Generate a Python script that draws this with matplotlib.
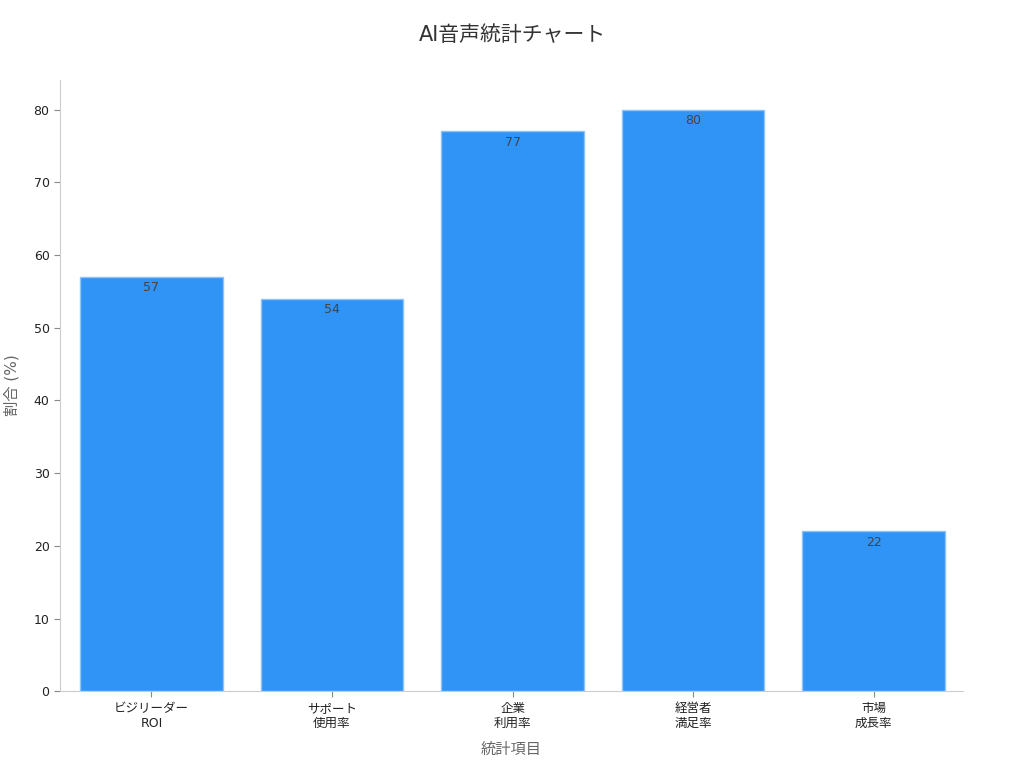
import matplotlib.pyplot as plt

plt.rcParams['font.family'] = ['DejaVu Sans', 'Noto Sans CJK JP']

# data
categories = ['ビジリーダー\nROI', 'サポート\n使用率', '企業\n利用率', '経営者\n満足率', '市場\n成長率']
values = [57, 54, 77, 80, 22]

fig = plt.figure(figsize=(10.24, 7.68), dpi=100)
ax = fig.add_axes([0.0586, 0.100, 0.8818, 0.796])

x = range(len(categories))
bars = ax.bar(x, values, width=0.79, color='#3093F6', edgecolor='#8EC3F8', linewidth=1)

for b, v in zip(bars, values):
    ax.text(b.get_x() + b.get_width() / 2, v - 0.6, str(v), ha='center', va='top',
            fontsize=9, color='#444444')

ax.set_xlim(-0.506, 4.494)
ax.set_ylim(0, 84.1)
ax.set_yticks(range(0, 81, 10))
ax.set_xticks(list(x))
ax.set_xticklabels(categories, fontsize=9, color='#222222')
ax.tick_params(axis='y', labelsize=9, colors='#222222', length=4, color='#888888')
ax.tick_params(axis='x', length=4, color='#888888')

for s in ['top', 'right']:
    ax.spines[s].set_visible(False)
for s in ['left', 'bottom']:
    ax.spines[s].set_color('#CCCCCC')

ax.set_xlabel('統計項目', fontsize=11, color='#666666', labelpad=9)
ax.set_ylabel('割合 (%)', fontsize=11, color='#666666', labelpad=10)
fig.suptitle('AI音声統計チャート', fontsize=15, color='#333333', y=0.968)

fig.savefig('out.png', dpi=100)
